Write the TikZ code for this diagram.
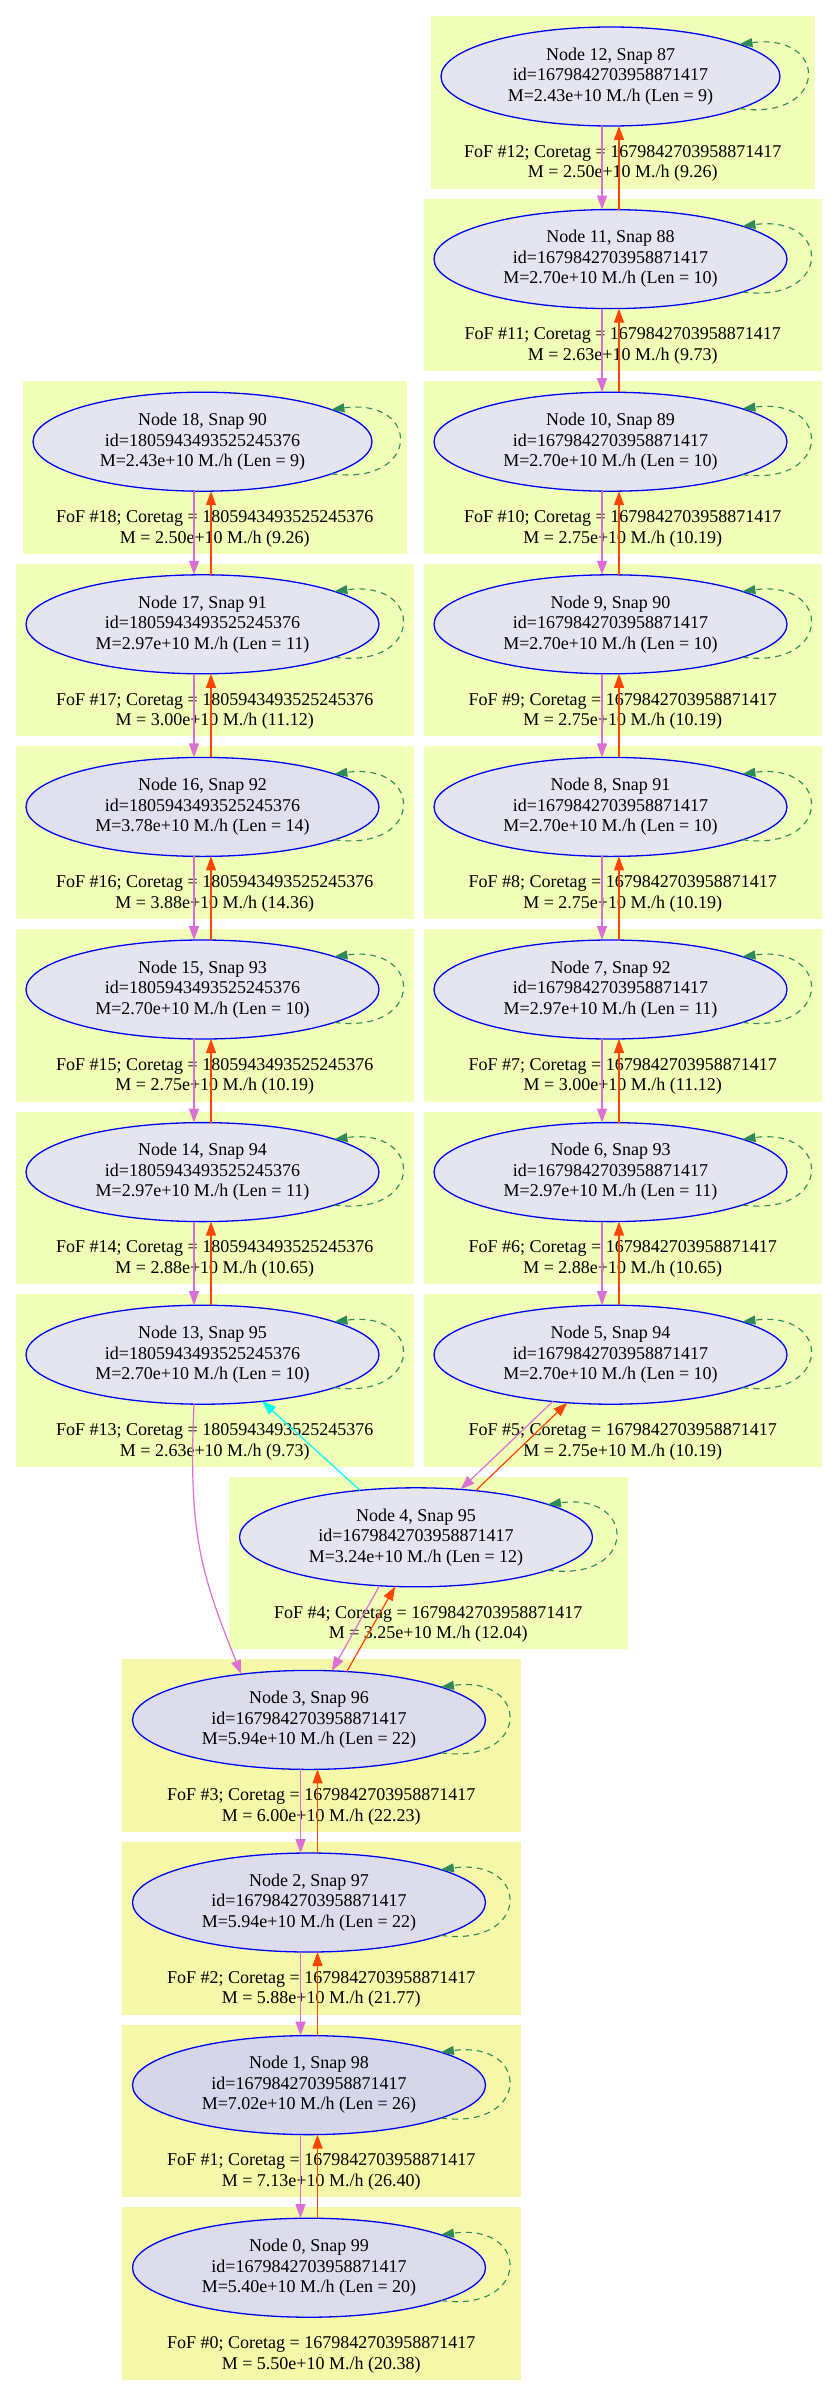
\documentclass[tikz,border=0pt]{standalone}
\usepackage{fontspec}
\setmainfont{Liberation Serif}
\usetikzlibrary{shapes.geometric,arrows.meta,calc}
\definecolor{cup}{HTML}{F0FEB8}
\definecolor{clow}{HTML}{F4F8A8}
\definecolor{eup}{HTML}{E5E5F2}
\definecolor{emid}{HTML}{E0E0EF}
\definecolor{elow}{HTML}{DCDCEC}
\definecolor{eone}{HTML}{D5D6EA}
\definecolor{orch}{HTML}{DA70D6}
\definecolor{ored}{HTML}{FF4500}
\definecolor{sgreen}{HTML}{2E8B57}
\definecolor{cyanline}{RGB}{0,255,255}
\tikzset{
  halo/.style={ellipse, draw=blue, line width=1.3pt, inner sep=0pt, outer sep=0pt,
    minimum height=99pt, align=center, font=\fontsize{18}{20.5}\selectfont},
  clabel/.style={align=center, inner sep=0pt, font=\fontsize{18}{20.5}\selectfont},
  selfloop/.style={draw=sgreen, line width=1.1pt, dash pattern=on 6pt off 5pt,
    -{Triangle[length=13pt,width=9pt,fill=sgreen,sep=0pt]}},
  downedge/.style={draw=orch, line width=1.2pt, -{Triangle[length=14pt,width=10pt]}},
  upedge/.style={draw=ored, line width=1.2pt, -{Triangle[length=14pt,width=10pt]}},
  cyanedge/.style={draw=cyanline, line width=1.2pt, -{Triangle[length=14pt,width=10pt]}}
}
% #1 name, #2 cx, #3 top, #4 half width, #5-#7 node lines, #8-#9 cluster label
\newcommand{\fofbox}[9]{%
  \fill[\cfill] ({#2-#4-10.5},#3) rectangle ({#2+#4+35},{#3+172.5});
  \node[clabel] (#1l) at ({#2+12.25},{#3+147.5}) {#8\\#9};
  \node[halo, fill=\efill, minimum width={2*#4pt}] (#1) at (#2,{#3+60.5}) {#5\\#6\\#7};
  \draw[selfloop] (#1.-14.3) .. controls +(90,12) and +(90,-12) .. (#1.14.3);
}
\begin{document}
\begin{tikzpicture}[x=1pt,y=-1pt]
\useasboundingbox (0,0) rectangle (837,2395);
\def\cfill{cup}\def\efill{eup}
% right column
\fofbox{n12}{610.5}{16}{169.5}{Node 12, Snap 87}{id=1679842703958871417}{M=2.43e+10 M./h (Len = 9)}{FoF \#12; Coretag = 1679842703958871417}{M = 2.50e+10 M./h (9.26)}
\fofbox{n11}{610.5}{198.6}{176.5}{Node 11, Snap 88}{id=1679842703958871417}{M=2.70e+10 M./h (Len = 10)}{FoF \#11; Coretag = 1679842703958871417}{M = 2.63e+10 M./h (9.73)}
\fofbox{n10}{610.5}{381.2}{176.5}{Node 10, Snap 89}{id=1679842703958871417}{M=2.70e+10 M./h (Len = 10)}{FoF \#10; Coretag = 1679842703958871417}{M = 2.75e+10 M./h (10.19)}
\fofbox{n9}{610.5}{563.8}{176.5}{Node 9, Snap 90}{id=1679842703958871417}{M=2.70e+10 M./h (Len = 10)}{FoF \#9; Coretag = 1679842703958871417}{M = 2.75e+10 M./h (10.19)}
\fofbox{n8}{610.5}{746.4}{176.5}{Node 8, Snap 91}{id=1679842703958871417}{M=2.70e+10 M./h (Len = 10)}{FoF \#8; Coretag = 1679842703958871417}{M = 2.75e+10 M./h (10.19)}
\fofbox{n7}{610.5}{929}{176.5}{Node 7, Snap 92}{id=1679842703958871417}{M=2.97e+10 M./h (Len = 11)}{FoF \#7; Coretag = 1679842703958871417}{M = 3.00e+10 M./h (11.12)}
\fofbox{n6}{610.5}{1111.6}{176.5}{Node 6, Snap 93}{id=1679842703958871417}{M=2.97e+10 M./h (Len = 11)}{FoF \#6; Coretag = 1679842703958871417}{M = 2.88e+10 M./h (10.65)}
\fofbox{n5}{610.5}{1294.2}{176.5}{Node 5, Snap 94}{id=1679842703958871417}{M=2.70e+10 M./h (Len = 10)}{FoF \#5; Coretag = 1679842703958871417}{M = 2.75e+10 M./h (10.19)}
% left column
\fofbox{n18}{202.5}{381.2}{169.5}{Node 18, Snap 90}{id=1805943493525245376}{M=2.43e+10 M./h (Len = 9)}{FoF \#18; Coretag = 1805943493525245376}{M = 2.50e+10 M./h (9.26)}
\fofbox{n17}{202.5}{563.8}{176.5}{Node 17, Snap 91}{id=1805943493525245376}{M=2.97e+10 M./h (Len = 11)}{FoF \#17; Coretag = 1805943493525245376}{M = 3.00e+10 M./h (11.12)}
\def\efill{emid}
\fofbox{n16}{202.5}{746.4}{176.5}{Node 16, Snap 92}{id=1805943493525245376}{M=3.78e+10 M./h (Len = 14)}{FoF \#16; Coretag = 1805943493525245376}{M = 3.88e+10 M./h (14.36)}
\def\efill{eup}
\fofbox{n15}{202.5}{929}{176.5}{Node 15, Snap 93}{id=1805943493525245376}{M=2.70e+10 M./h (Len = 10)}{FoF \#15; Coretag = 1805943493525245376}{M = 2.75e+10 M./h (10.19)}
\fofbox{n14}{202.5}{1111.6}{176.5}{Node 14, Snap 94}{id=1805943493525245376}{M=2.97e+10 M./h (Len = 11)}{FoF \#14; Coretag = 1805943493525245376}{M = 2.88e+10 M./h (10.65)}
\fofbox{n13}{202.5}{1294.2}{176.5}{Node 13, Snap 95}{id=1805943493525245376}{M=2.70e+10 M./h (Len = 10)}{FoF \#13; Coretag = 1805943493525245376}{M = 2.63e+10 M./h (9.73)}
% lower chain
\fofbox{n4}{416}{1476.8}{176.5}{Node 4, Snap 95}{id=1679842703958871417}{M=3.24e+10 M./h (Len = 12)}{FoF \#4; Coretag = 1679842703958871417}{M = 3.25e+10 M./h (12.04)}
\def\cfill{clow}\def\efill{elow}
\fofbox{n3}{309}{1659.4}{176.5}{Node 3, Snap 96}{id=1679842703958871417}{M=5.94e+10 M./h (Len = 22)}{FoF \#3; Coretag = 1679842703958871417}{M = 6.00e+10 M./h (22.23)}
\fofbox{n2}{309}{1842}{176.5}{Node 2, Snap 97}{id=1679842703958871417}{M=5.94e+10 M./h (Len = 22)}{FoF \#2; Coretag = 1679842703958871417}{M = 5.88e+10 M./h (21.77)}
\def\efill{eone}
\fofbox{n1}{309}{2024.6}{176.5}{Node 1, Snap 98}{id=1679842703958871417}{M=7.02e+10 M./h (Len = 26)}{FoF \#1; Coretag = 1679842703958871417}{M = 7.13e+10 M./h (26.40)}
\def\efill{elow}
\fofbox{n0}{309}{2207.2}{176.5}{Node 0, Snap 99}{id=1679842703958871417}{M=5.40e+10 M./h (Len = 20)}{FoF \#0; Coretag = 1679842703958871417}{M = 5.50e+10 M./h (20.38)}
% vertical edges
\foreach \u/\l in {n12/n11, n11/n10, n10/n9, n9/n8, n8/n7, n7/n6, n6/n5,
                   n18/n17, n17/n16, n16/n15, n15/n14, n14/n13,
                   n3/n2, n2/n1, n1/n0} {
  \draw[downedge] ($(\u.south)+(-8.5,0)$) -- ($(\l.north)+(-8.5,0)$);
  \draw[upedge] ($(\l.north)+(8.5,0)$) -- ($(\u.south)+(8.5,0)$);
}
% cross edges
\draw[downedge] ($(n13.south)+(-8.5,0)$) .. controls +(-6,130) and +(-40,-100) .. (n3.146);
\draw[cyanedge] (n4.140) -- (n13.-38);
\draw[downedge] (n5.-141) -- (n4.47);
\draw[upedge] (n4.38) -- (n5.-132);
\draw[downedge] (n4.-127) -- (n3.65);
\draw[upedge] (n3.52) -- (n4.-113);
\end{tikzpicture}
\end{document}
